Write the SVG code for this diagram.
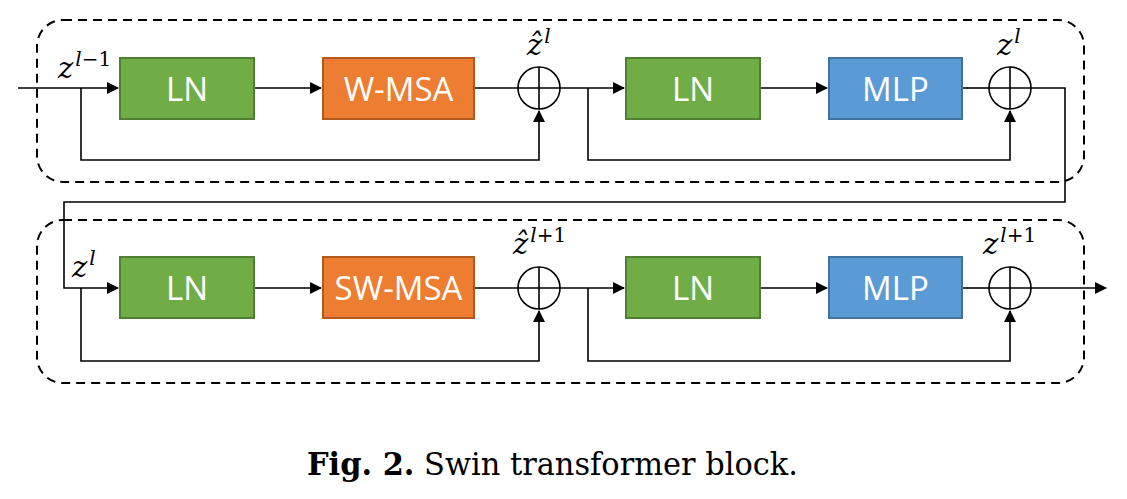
<svg xmlns="http://www.w3.org/2000/svg" width="1127" height="499" viewBox="0 0 1127 499">
<defs>
<marker id="ah" markerWidth="12" markerHeight="12" refX="11" refY="6" orient="auto" markerUnits="userSpaceOnUse">
<path d="M0,0 L12,6 L0,12 Z" fill="#000"/>
</marker>
<style>
.frame{fill:none;stroke:#000;stroke-width:2;stroke-dasharray:9,6}
.ln{fill:#70AD47;stroke:#507E32;stroke-width:2}
.msa{fill:#ED7D31;stroke:#AE5A21;stroke-width:2}
.mlp{fill:#5B9BD5;stroke:#41719C;stroke-width:2}
.lbl{font-family:"Open Sans","Noto Sans",sans-serif;font-size:33px;fill:#fff;text-anchor:middle}
.wire{fill:none;stroke:#000;stroke-width:1.6}
.add{fill:#fff;stroke:#000;stroke-width:1.6}
.math{font-family:"DejaVu Serif","Liberation Serif",serif;font-style:italic;font-size:29px;fill:#000}
.sup{font-size:20px}
.up{font-style:normal}
.cap{font-family:"DejaVu Serif","Liberation Serif",serif;font-size:31px;fill:#000}
</style>
</defs>
<g id="frames">
<rect class="frame" x="37" y="20" width="1047" height="162" rx="26"/>
<rect class="frame" x="37" y="220" width="1047" height="163" rx="26"/>
</g>
<g id="connectors">
<path class="wire" d="M18,88 H118" marker-end="url(#ah)"/>
<path class="wire" d="M81,88 V160 H539 V111" marker-end="url(#ah)"/>
<path class="wire" d="M254,88 H321" marker-end="url(#ah)"/>
<path class="wire" d="M474,88 H518"/>
<path class="wire" d="M560,88 H624" marker-end="url(#ah)"/>
<path class="wire" d="M588,88 V160 H1010 V111" marker-end="url(#ah)"/>
<path class="wire" d="M760,88 H827" marker-end="url(#ah)"/>
<path class="wire" d="M962,88 H989"/>
<path class="wire" d="M1031,88 H1065 V202 H64 V288 H118" marker-end="url(#ah)"/>
<path class="wire" d="M81,288 V361 H539 V311" marker-end="url(#ah)"/>
<path class="wire" d="M254,288 H321" marker-end="url(#ah)"/>
<path class="wire" d="M474,288 H518"/>
<path class="wire" d="M560,288 H624" marker-end="url(#ah)"/>
<path class="wire" d="M588,288 V361 H1010 V311" marker-end="url(#ah)"/>
<path class="wire" d="M760,288 H827" marker-end="url(#ah)"/>
<path class="wire" d="M962,288 H989"/>
<path class="wire" d="M1031,288 H1106" marker-end="url(#ah)"/>
</g>
<g id="ln1"><rect class="ln" x="120" y="58" width="134" height="61"/><text class="lbl" x="187" y="101">LN</text></g>
<g id="wmsa"><rect class="msa" x="323" y="58" width="151" height="61"/><text class="lbl" x="398.5" y="101">W-MSA</text></g>
<g id="add1"><circle class="add" cx="539" cy="88" r="21"/><path class="wire" d="M518,88 H560 M539,67 V109"/></g>
<g id="ln2"><rect class="ln" x="626" y="58" width="134" height="61"/><text class="lbl" x="693" y="101">LN</text></g>
<g id="mlp1"><rect class="mlp" x="829" y="58" width="133" height="61"/><text class="lbl" x="895.5" y="101">MLP</text></g>
<g id="add2"><circle class="add" cx="1010" cy="88" r="21"/><path class="wire" d="M989,88 H1031 M1010,67 V109"/></g>
<g id="ln3"><rect class="ln" x="120" y="257" width="134" height="61"/><text class="lbl" x="187" y="300">LN</text></g>
<g id="swmsa"><rect class="msa" x="323" y="257" width="151" height="61"/><text class="lbl" x="398.5" y="300">SW-MSA</text></g>
<g id="add3"><circle class="add" cx="539" cy="288" r="21"/><path class="wire" d="M518,288 H560 M539,267 V309"/></g>
<g id="ln4"><rect class="ln" x="626" y="257" width="134" height="61"/><text class="lbl" x="693" y="300">LN</text></g>
<g id="mlp2"><rect class="mlp" x="829" y="257" width="133" height="61"/><text class="lbl" x="895.5" y="300">MLP</text></g>
<g id="add4"><circle class="add" cx="1010" cy="288" r="21"/><path class="wire" d="M989,288 H1031 M1010,267 V309"/></g>
<g id="labels">
<text class="math" x="58" y="78">z<tspan class="sup" dy="-12" dx="2">l<tspan class="up">−1</tspan></tspan></text>
<text class="math" x="527" y="55">ẑ<tspan class="sup" dy="-12" dx="2">l</tspan></text>
<text class="math" x="997" y="55">z<tspan class="sup" dy="-12" dx="2">l</tspan></text>
<text class="math" x="72" y="277">z<tspan class="sup" dy="-12" dx="2">l</tspan></text>
<text class="math" x="513" y="254">ẑ<tspan class="sup" dy="-12" dx="2">l<tspan class="up">+1</tspan></tspan></text>
<text class="math" x="983" y="254">z<tspan class="sup" dy="-12" dx="2">l<tspan class="up">+1</tspan></tspan></text>
</g>
<g id="caption">
<text class="cap" x="307" y="475" textLength="491" lengthAdjust="spacingAndGlyphs"><tspan font-weight="bold">Fig. 2.</tspan> Swin transformer block.</text>
</g>
</svg>
